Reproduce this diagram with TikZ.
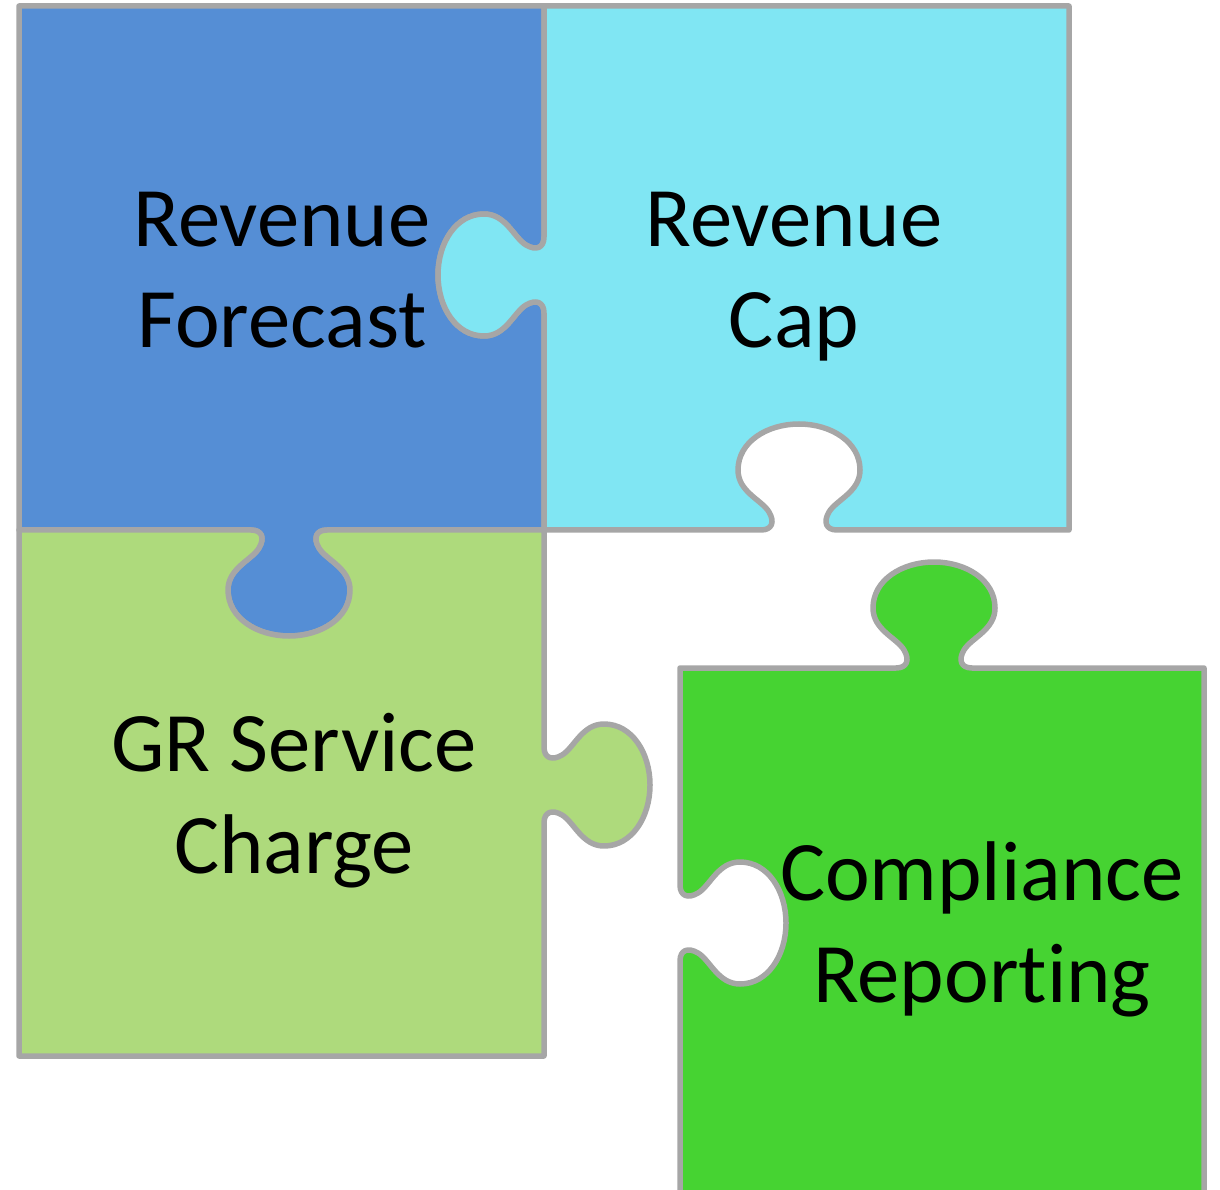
\documentclass[tikz,border=0pt]{standalone}
\usepackage{fontspec}
\setmainfont{Carlito}[Ligatures={CommonOff,ContextualOff}]
\usepackage{tikz}
\definecolor{rfblue}{HTML}{558ED5}
\definecolor{rccyan}{HTML}{80E6F3}
\definecolor{grgreen}{HTML}{AEDA7C}
\definecolor{crgreen}{HTML}{46D332}
\definecolor{edgegray}{HTML}{A6A6A6}
\tikzstyle{piece} = [draw=edgegray, line width=1.1mm, line join=round]
\tikzstyle{label} = [align=center, anchor=base, inner sep=0pt, font=\fontsize{48.2}{57.5}\selectfont]
% one tab, edge run left to right, bulge to the left of the run
\newcommand{\knob}{-- (-45,0) -- (-38,0) .. controls (-27,0) and (-24,-8) .. (-30,-18)
  .. controls (-37,-30) and (-61,-38) .. (-61,-60) .. controls (-61,-88) and (-32,-106) .. (0,-106)
  .. controls (32,-106) and (61,-88) .. (61,-60) .. controls (61,-38) and (37,-30) .. (30,-18)
  .. controls (24,-8) and (27,0) .. (38,0) -- (45,0)}

\begin{document}
\begin{tikzpicture}[x=0.2mm, y=-0.2mm]
        \useasboundingbox (0,0) rectangle (1220,1190);
        \clip (0,0) rectangle (1220,1190);
        \draw[piece, fill=rfblue] (19,6) -- (544,6) {[shift={(544,275)}, rotate=-90, yscale=-1] \knob}
          -- (544,530) {[shift={(289,530)}, rotate=180] \knob} -- (19,530) -- cycle;
        \draw[piece, fill=rccyan] (544,6) -- (1069,6) -- (1069,530) {[shift={(799,530)}, rotate=180, yscale=-1] \knob}
          -- (544,530) {[shift={(544,275)}, rotate=90] \knob} -- cycle;
        \draw[piece, fill=grgreen] (19,530) {[shift={(289,530)}, yscale=-1] \knob} -- (544,530)
          {[shift={(544,785)}, rotate=-90] \knob} -- (544,1056) -- (19,1056) -- cycle;
        \draw[piece, fill=crgreen] (680,668) {[shift={(934,668)}] \knob} -- (1204,668) -- (1204,1210)
          -- (680,1210) {[shift={(680,923)}, rotate=90, yscale=-1] \knob} -- cycle;
        % base of a two-line node is the baseline of its last line
        \node[label] (rf) at (282,348) {Revenue\\Forecast};
        \node[label] (rc) at (794,348) {Revenue\\Cap};
        \node[label] (gr) at (294,873) {GR Service\\Charge};
        \node[label] (cr) at (982,1002) {Compliance\\Reporting};
\end{tikzpicture}
\end{document}
